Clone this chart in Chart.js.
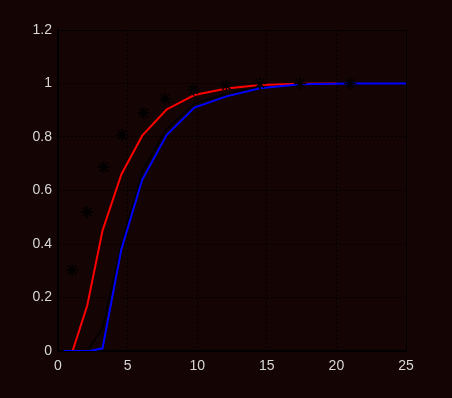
<!DOCTYPE html>
<html>
<head>
<meta charset="utf-8">
<script src="https://cdn.jsdelivr.net/npm/chart.js@4/dist/chart.umd.min.js"></script>
<style>
html,body{margin:0;padding:0;background:#140404;}
#wrap{width:452px;height:398px;}
</style>
</head>
<body>
<div id="wrap"><canvas id="c" width="452" height="398"></canvas></div>
<script>
const xTicks = [0, 5, 10, 15, 20, 25];
const yTicks = [0, 0.2, 0.4, 0.6, 0.8, 1, 1.2];

const redX = [1.05, 2.1, 3.2, 4.55, 6.05, 7.8, 9.8, 12.1, 14.5, 17.4, 20];
const redY = [0, 0.17, 0.45, 0.66, 0.805, 0.903, 0.957, 0.981, 0.994, 0.999, 1.0];

const blueX = [0.4, 2.3, 3.2, 4.55, 6.05, 7.8, 9.8, 12.1, 14.5, 17.4, 21, 25];
const blueY = [0, 0, 0.01, 0.38, 0.64, 0.807, 0.91, 0.952, 0.982, 0.997, 1.0, 1.0];

const blackX = [2.1, 3.2, 4.55, 6.05, 7.8, 9.8, 12.1, 14.5, 17.4, 21, 25];
const blackY = [0, 0.085, 0.40, 0.67, 0.83, 0.925, 0.962, 0.987, 0.998, 1.0, 1.0];

const starX = [1.02, 2.09, 3.28, 4.6, 6.15, 7.7, 9.74, 12.1, 14.5, 17.4, 21];
const starY = [0.303, 0.52, 0.687, 0.808, 0.89, 0.943, 0.977, 0.993, 1.0, 1.0, 1.0];

const pts = (xs, ys) => xs.map((x, i) => ({x: x, y: ys[i]}));

const boxPlugin = {
  id: 'box',
  beforeDraw(chart) {
    const ctx = chart.ctx;
    ctx.save();
    ctx.fillStyle = '#140404';
    ctx.fillRect(0, 0, chart.width, chart.height);
    ctx.restore();
  },
  afterDatasetsDraw(chart) {
    const a = chart.chartArea, ctx = chart.ctx;
    ctx.save();
    ctx.strokeStyle = '#000';
    ctx.lineWidth = 1;
    ctx.beginPath();
    ctx.moveTo(a.left, a.top + 0.5);
    ctx.lineTo(a.right + 0.5, a.top + 0.5);
    ctx.lineTo(a.right + 0.5, a.bottom);
    ctx.stroke();
    ctx.restore();
  }
};

new Chart(document.getElementById('c'), {
  type: 'scatter',
  data: {
    datasets: [
      {data: pts(starX, starY), showLine: false, pointStyle: 'star', pointRadius: 6,
       borderColor: '#000', backgroundColor: '#000', pointBorderWidth: 1.5},
      {data: pts(blueX, blueY), showLine: true, borderColor: '#0000ff', borderWidth: 2,
       pointRadius: 0, tension: 0},
      {data: pts(redX, redY), showLine: true, borderColor: '#ff0000', borderWidth: 2,
       pointRadius: 0, tension: 0},
      {data: pts(blackX, blackY), showLine: true, borderColor: '#000000', borderWidth: 1.5,
       pointRadius: 0, tension: 0}
    ]
  },
  options: {
    responsive: false,
    animation: false,
    events: [],
    layout: {padding: {top: 30, right: 46, left: 0, bottom: 0}},
    plugins: {legend: {display: false}, tooltip: {enabled: false}},
    scales: {
      x: {
        type: 'linear', min: 0, max: 25,
        afterBuildTicks(s) { s.ticks = xTicks.map(v => ({value: v})); },
        afterFit(s) { s.height = 47; },
        ticks: {color: '#d8d8d8', font: {family: 'Liberation Sans, Arial, sans-serif', size: 14}, padding: 7, maxRotation: 0},
        grid: {color: '#000', lineWidth: 1, drawTicks: false},
        border: {color: '#000', width: 2, dash: [2, 2]}
      },
      y: {
        type: 'linear', min: 0, max: 1.2,
        afterBuildTicks(s) { s.ticks = yTicks.map(v => ({value: v})); },
        afterFit(s) { s.width = 58; },
        ticks: {color: '#d8d8d8', font: {family: 'Liberation Sans, Arial, sans-serif', size: 14}, padding: 6,
                callback: v => String(v)},
        grid: {color: '#000', lineWidth: 1, drawTicks: false},
        border: {color: '#000', width: 2, dash: [2, 2]}
      }
    }
  },
  plugins: [boxPlugin]
});
</script>
</body>
</html>
